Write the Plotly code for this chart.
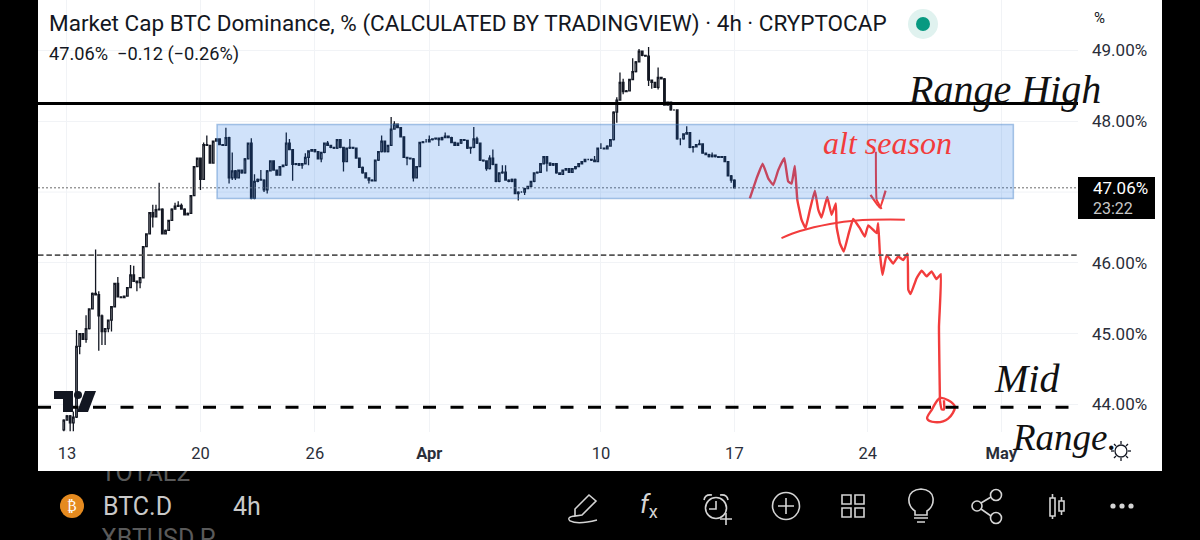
import pandas as pd
import plotly.graph_objects as go

# ---------- data ----------
first_bar = "2023-03-12 20:00"
first_open = 43.64
closes = [
 43.78,43.84,43.74,43.82,44.82,45.0,44.92,45.07,45.35,45.57,45.55,45.25,45.03,45.07,45.19,45.38,45.71,45.52,45.51,45.53,
 45.65,45.83,45.74,45.72,45.79,46.23,46.41,46.71,46.65,46.75,46.76,46.41,46.46,46.6,46.76,46.8,46.81,46.76,46.68,46.7,
 46.95,47.36,47.48,47.18,47.67,47.66,47.41,47.72,47.75,47.67,47.66,47.77,47.2,47.3,47.2,47.31,47.27,47.47,47.69,46.91,
 47.15,47.18,47.17,47.03,47.3,47.44,47.31,47.24,47.36,47.38,47.69,47.6,47.39,47.4,47.38,47.4,47.49,47.58,47.6,47.57,
 47.47,47.56,47.69,47.66,47.63,47.62,47.74,47.63,47.43,47.62,47.63,47.62,47.48,47.35,47.27,47.2,47.17,47.16,47.45,47.57,
 47.72,47.57,47.66,47.89,47.96,47.91,47.78,47.49,47.48,47.47,47.2,47.36,47.7,47.71,47.71,47.74,47.75,47.76,47.74,47.77,
 47.79,47.77,47.7,47.66,47.69,47.74,47.73,47.62,47.63,47.75,47.69,47.45,47.44,47.33,47.48,47.39,47.15,47.27,47.28,47.17,
 47.15,47.18,46.98,47.0,47.0,47.05,47.08,47.15,47.27,47.28,47.4,47.5,47.41,47.38,47.4,47.27,47.25,47.31,47.33,47.28,
 47.33,47.36,47.4,47.43,47.46,47.46,47.45,47.43,47.62,47.62,47.61,47.65,47.74,48.13,48.3,48.55,48.42,48.43,48.59,48.7,
 48.84,48.99,48.93,48.92,48.58,48.55,48.48,48.62,48.6,48.23,48.27,48.16,48.16,47.75,47.75,47.82,47.84,47.63,47.64,47.67,
 47.68,47.55,47.53,47.5,47.52,47.5,47.49,47.5,47.43,47.23,47.17,47.06]
high_wicks = {2:43.9,3:45.05,6:45.26,9:46.19,10:45.6,11:45.27,16:45.8,20:45.97,21:45.96,27:46.82,28:46.82,29:47.13,
 34:46.85,35:46.87,36:46.84,43:47.7,44:47.8,50:47.91,52:47.56,58:47.76,59:47.25,61:47.31,63:47.31,69:47.84,70:47.75,
 75:47.55,82:47.72,89:47.75,99:47.8,102:48.06,103:48.0,113:47.75,114:47.8,119:47.84,128:47.92,129:47.78,133:47.52,
 134:47.6,137:47.38,138:47.38,166:47.51,168:47.69,173:48.34,174:48.69,175:48.6,178:48.89,180:49.02,183:49.05,
 186:48.76,195:47.93,199:47.74,203:47.56}
low_wicks = {-1:43.62,1:43.62,2:43.62,4:44.71,6:44.87,10:44.76,11:44.84,12:44.84,13:45.02,14:45.03,22:45.6,23:45.64,
 27:46.5,42:47.03,51:47.12,52:47.17,53:47.17,58:46.9,62:47.0,63:46.98,71:47.16,74:47.33,76:47.38,80:47.42,87:47.29,
 95:47.12,107:47.38,109:47.15,117:47.65,127:47.54,132:47.3,142:46.88,144:46.96,151:47.29,173:47.98,175:48.38,
 183:48.5,184:48.46,186:48.45,193:47.66,197:47.56,209:47.13}

range_high = 48.25
mid_range = 43.96
middle_level = 46.11
last_price = 47.06
unlabelled_grid = 47
box_top, box_bottom = 47.955, 46.91
box_start_day, box_end_day = 7.87, 49.63

# red ink, in days after 13 March and percent
path_days = [35.81,36.16,36.48,36.78,37.04,37.30,37.62,37.82,38.0,38.17,38.30,38.52,38.73,38.96,39.22,39.40,39.57,39.87,40.10,40.32,
 40.36,40.53,40.74,40.97,41.23,41.58,41.84,42.02,42.46,42.54,42.63,42.77,42.98,43.33,43.59,43.85,44.08,44.12,44.24,44.55,
 44.82,45.08,45.34,45.60,45.83,45.73,45.78]
path_pct = [46.91,47.19,47.40,47.19,47.10,47.31,47.48,47.15,47.12,47.37,46.89,46.61,46.49,46.75,47.02,46.75,46.64,46.93,46.68,46.84,
 46.51,46.28,46.16,46.39,46.62,46.49,46.37,46.53,46.42,46.56,46.14,45.83,46.11,45.99,46.09,46.04,46.13,45.62,45.56,45.78,
 45.89,45.81,45.88,45.77,45.84,45.10,44.06]
circle_days = [45.78,45.34,45.11,45.52,46.21,46.56,46.21,45.78]
circle_pct = [44.09,43.92,43.80,43.75,43.80,43.97,44.06,44.09]
scratch_days = [45.78,45.87,45.99,45.99]
scratch_pct = [44.06,43.93,43.93,44.06]
trend_days = [37.47,38.44,40.01,41.41,43.94]
trend_pct = [46.35,46.45,46.55,46.60,46.61]
arrow_days = [42.42,42.46,42.72]
arrow_pct = [47.57,46.89,46.76]
head_days = [42.14,42.63,42.93]
head_pct = [46.96,46.78,47.02]

price_ticks = [44,45,46,48,49]
price_labels = ["44.00%","45.00%","46.00%","48.00%","49.00%"]
time_ticks = ["2023-03-13","2023-03-20","2023-03-26","2023-04-01","2023-04-10","2023-04-17","2023-04-24","2023-05-01"]
time_labels = ["13","20","26","<b>Apr</b>","10","17","24","<b>May</b>"]

TITLE = "Market Cap BTC Dominance, % (CALCULATED BY TRADINGVIEW) · 4h · CRYPTOCAP"
QUOTE = "47.06%  −0.12 (−0.26%)"

# ---------- derived ----------
opens = [first_open] + closes[:-1]
highs, lows = [], []
for n, (o, c) in enumerate(zip(opens, closes)):
    i = n - 1
    highs.append(high_wicks.get(i, max(o, c) + 0.01))
    lows.append(low_wicks.get(i, min(o, c) - 0.01))
times = pd.date_range(first_bar, periods=len(closes), freq="4h")
BASE = pd.Timestamp("2023-03-13")
def day(d):
    return BASE + pd.to_timedelta(d, unit="D")
def days(lst):
    return [day(d) for d in lst]

W, H = 1200, 540
def px(x): return x / W
def py(y): return 1 - y / H

INK = "#f23c3c"
DARK = "#131722"
GRID = "#f1f3f6"
ICON = "#d4d4d4"

fig = go.Figure()
fig.add_trace(go.Candlestick(
    x=times, open=opens, high=highs, low=lows, close=closes,
    increasing=dict(line=dict(color=DARK, width=1.3), fillcolor="#ffffff"),
    decreasing=dict(line=dict(color=DARK, width=1.3), fillcolor=DARK),
    whiskerwidth=0, hoverinfo="skip", showlegend=False))
for dx, dy, w, sm in [(path_days, path_pct, 2.4, 0.3), (circle_days, circle_pct, 2.4, 1.0),
                      (scratch_days, scratch_pct, 2.4, 0.5), (trend_days, trend_pct, 2.0, 1.0),
                      (arrow_days, arrow_pct, 2.0, 0.3), (head_days, head_pct, 2.2, 0.3)]:
    fig.add_trace(go.Scatter(x=days(dx), y=dy, mode="lines", showlegend=False, hoverinfo="skip",
                             line=dict(color=INK, width=w, shape="spline", smoothing=sm)))

# watchlist names cut off by the chart panel and the window
fig.add_trace(go.Scatter(x=[101, 101], y=[475, 541], text=["TOTAL2", "XBTUSD.P"], mode="text",
                         textposition="middle right", xaxis="x2", yaxis="y2", showlegend=False,
                         hoverinfo="skip", cliponaxis=True,
                         textfont=dict(family="Roboto", size=25, color="#5a5a5a")))

shapes = []
# panel
shapes.append(dict(type="rect", xref="paper", yref="paper", x0=px(38), x1=px(1162), y0=py(471), y1=py(0),
                   fillcolor="#ffffff", line=dict(width=0), layer="below"))
# gridline of the price hidden by the last-price label
shapes.append(dict(type="line", xref="paper", yref="y", x0=px(38), x1=px(1078), y0=unlabelled_grid, y1=unlabelled_grid,
                   line=dict(color=GRID, width=1), layer="below"))
# horizontal levels
def level(y, color, width, dash):
    shapes.append(dict(type="line", xref="paper", yref="y", x0=px(38), x1=px(1078), y0=y, y1=y,
                       line=dict(color=color, width=width, dash=dash), layer="above"))
level(middle_level, "#555555", 1.6, "5.5px,2.9px")
level(last_price, "#6b6b6b", 1, "2px,2px")
level(range_high, "#000000", 3, "solid")
level(mid_range, "#000000", 3, "13px,14.5px")
# range box
shapes.append(dict(type="rect", xref="x", yref="y", x0=day(box_start_day), x1=day(box_end_day),
                   y0=box_bottom, y1=box_top, fillcolor="rgba(20,110,230,0.20)",
                   line=dict(color="rgba(70,130,200,0.45)", width=1.5), layer="above"))

def path(d, color=ICON, width=1.6, fill=None, layer="above"):
    parts = d.split()
    out, i = [], 0
    while i < len(parts):
        t = parts[i]
        if t.isalpha():
            out.append(t); i += 1
        else:
            out.append(f"{px(float(parts[i])):.5f},{py(float(parts[i+1])):.5f}"); i += 2
    shapes.append(dict(type="path", xref="paper", yref="paper", path=" ".join(out),
                       line=dict(color=color, width=width), fillcolor=fill or "rgba(0,0,0,0)", layer=layer))
def circle(cx, cy, r, color=ICON, width=1.6, fill=None):
    shapes.append(dict(type="circle", xref="paper", yref="paper", x0=px(cx-r), x1=px(cx+r),
                       y0=py(cy+r), y1=py(cy-r), line=dict(color=color, width=width),
                       fillcolor=fill or "rgba(0,0,0,0)", layer="above"))

# TradingView logo
path("M 54 391 L 73 391 L 73 412 L 63 412 L 63 399 L 54 399 Z", DARK, 0, DARK)
circle(78, 395, 4, DARK, 0, DARK)
path("M 85 391 L 96 391 L 88 412 L 77 412 Z", DARK, 0, DARK)
# market-status dot
circle(923, 24, 15, "#e0f2ef", 0, "#e0f2ef")
circle(923, 24, 7, "#089981", 0, "#089981")
# price label
path("M 1078 177 L 1155 177 L 1155 219 L 1078 219 Z", "#000000", 0, "#000000")
# sun
circle(1121, 451, 6, "#131722", 1.3)
for a, b, c, d in [(1121,441,1121,444),(1121,458,1121,461),(1111,451,1114,451),(1128,451,1131,451),
                   (1114,444,1116,446),(1126,456,1128,458),(1114,458,1116,456),(1126,446,1128,444)]:
    path(f"M {a} {b} L {c} {d}", "#131722", 1.3)
# bitcoin coin
circle(72, 506, 12, "#e58a1f", 0, "#e58a1f")
# toolbar: pen
path("M 589 495 L 596 501 L 582 515 L 575 516 L 575 509 Z")
path("M 575 516 Q 566 517 570 521 Q 578 525 597 520", width=1.4)
# alarm
circle(716, 508, 10.5)
path("M 716 501 L 716 509 L 709 509")
path("M 704 500 Q 705 494 712 495")
path("M 728 500 Q 727 494 720 495")
path("M 726 513 L 726 525 M 720 519 L 732 519")
# plus
circle(786, 506, 13.5)
path("M 786 498 L 786 514 M 778 506 L 794 506")
# grid
for gx in (842, 855):
    for gy in (495, 508):
        path(f"M {gx} {gy} L {gx+9} {gy} L {gx+9} {gy+9} L {gx} {gy+9} Z")
# bulb
path("M 915 515 L 915 511 Q 908 506 909 498 Q 910 490 921 489 Q 932 490 933 498 Q 934 506 927 511 L 927 515 Z")
path("M 914 518 L 928 518 M 917 522 L 925 522")
# share
circle(977, 506, 5); circle(996, 495, 5.5); circle(996, 518, 5.5)
path("M 981 503 L 991 497 M 981 509 L 991 516")
# candles
path("M 1050 498 L 1055 498 L 1055 516 L 1050 516 Z M 1052.5 494 L 1052.5 498 M 1052.5 516 L 1052.5 519")
path("M 1059 501 L 1064 501 L 1064 511 L 1059 511 Z M 1061.5 497 L 1061.5 501 M 1061.5 511 L 1061.5 515")
# more
for cx in (1113, 1122, 1131):
    circle(cx, 506, 2.6, ICON, 0, ICON)

def note(text, x, y, size, color="#131722", family="Roboto", anchor="left"):
    return dict(text=text, x=px(x), y=py(y), xref="paper", yref="paper", showarrow=False,
                xanchor=anchor, yanchor="middle", align="left",
                font=dict(family=family, size=size, color=color))
HAND = "Liberation Serif"
annotations = [
    note(TITLE, 47, 24, 22.5),
    note(QUOTE, 47, 54, 18.2),
    note("%", 1092, 18, 15),
    note("47.06%", 1091, 188, 17, "#ffffff"),
    note("23:22", 1091, 208, 16, "#c8c8c8"),
    note("<i>Range High</i>", 906, 90, 40, "#111111", HAND),
    note("<i>Mid</i>", 992, 378, 40, "#111111", HAND),
    note("<i>Range.</i>", 1010, 437, 37, "#111111", HAND),
    note("<i>alt season</i>", 821, 143, 32, INK, HAND),
    note("BTC.D", 101, 506, 25, "#c9c9c9"),
    note("4h", 231, 506, 25, "#c9c9c9"),
    note("₿", 72, 506, 14, "#ffffff", "DejaVu Sans", "center"),
    note("<i>f</i><sub>x</sub>", 638, 505, 26, ICON, "Roboto"),
]

fig.update_layout(
    width=W, height=H, autosize=False,
    margin=dict(l=0, r=0, t=0, b=0),
    paper_bgcolor="#000000", plot_bgcolor="rgba(0,0,0,0)",
    shapes=shapes, annotations=annotations, dragmode=False,
    xaxis=dict(domain=[px(38), px(1078)], type="date", anchor="y",
               range=[day(-1.52), day(53.02)], rangeslider=dict(visible=False),
               tickmode="array", tickvals=time_ticks, ticktext=time_labels,
               tickfont=dict(family="Roboto", size=16.5, color="#2a2e39"), ticks="", ticklabelstandoff=9,
               showgrid=True, gridcolor=GRID, gridwidth=1, zeroline=False, showline=False),
    yaxis=dict(domain=[py(432), 1], anchor="x", side="right", range=[43.611, 49.713],
               tickmode="array", tickvals=price_ticks, ticktext=price_labels,
               tickfont=dict(family="Roboto", size=17, color="#2a2e39"), ticks="", ticklabelstandoff=13,
               showgrid=True, gridcolor=GRID, gridwidth=1, zeroline=False, showline=False),
    xaxis2=dict(domain=[0, 1], range=[0, 1200], visible=False, anchor="y2"),
    yaxis2=dict(domain=[0, py(471)], range=[540, 471], visible=False, anchor="x2"),
)
fig.write_html("out.html", config=dict(displayModeBar=False, staticPlot=True),
               post_script="document.body.style.margin='0';document.body.style.background='#000';document.body.style.overflow='hidden';")
